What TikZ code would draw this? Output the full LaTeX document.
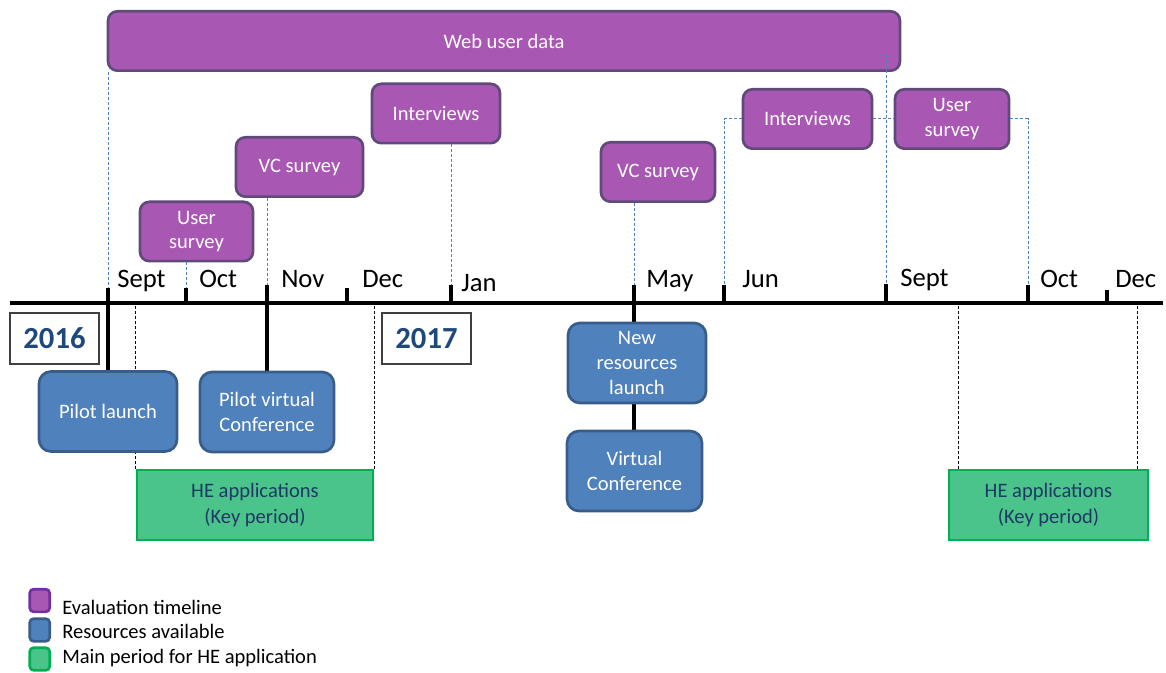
\documentclass[tikz,border=0pt]{standalone}
\usepackage{fontspec}
\setmainfont{Carlito}
\usetikzlibrary{backgrounds}

\definecolor{evalfill}{RGB}{168,88,178}
\definecolor{evaldraw}{RGB}{96,74,123}
\definecolor{evalleg}{RGB}{112,48,160}
\definecolor{resfill}{RGB}{79,129,189}
\definecolor{resdraw}{RGB}{56,93,138}
\definecolor{hefill}{RGB}{74,196,139}
\definecolor{hedraw}{RGB}{0,176,80}
\definecolor{hetext}{RGB}{31,56,100}
\definecolor{yeartext}{RGB}{31,73,125}
\definecolor{guideblue}{RGB}{79,129,189}

\tikzstyle{evalbox}=[
    draw=evaldraw,
    fill=evalfill,
    line width=2pt,
    rounded corners=7pt,
    text=white,
    align=center,
    minimum height=44.5pt,
    font=\fontsize{15.4}{18.5}\selectfont,
  ]
\tikzstyle{resbox}=[
    draw=resdraw,
    fill=resfill,
    line width=2pt,
    rounded corners=9pt,
    text=white,
    align=center,
    minimum height=60pt,
    font=\fontsize{15.4}{18.5}\selectfont,
  ]
\tikzstyle{hebox}=[
    draw=hedraw,
    fill=hefill,
    line width=2.2pt,
    text=hetext,
    align=center,
    minimum height=52.5pt,
    font=\fontsize{15.4}{19}\selectfont,
  ]
\tikzstyle{yearbox}=[
    draw=black!75,
    line width=0.8pt,
    minimum width=66.75pt,
    minimum height=38.25pt,
    text=yeartext,
    font=\fontsize{23}{28}\selectfont\bfseries,
  ]
\tikzstyle{legbox}=[
    line width=2pt,
    rounded corners=3pt,
    inner sep=0pt,
    minimum width=15pt,
    minimum height=17pt,
  ]
\tikzstyle{legtext}=[
    anchor=base west,
    inner sep=0pt,
    font=\fontsize{15.4}{18}\selectfont,
  ]
\tikzstyle{month}=[
    anchor=base west,
    inner sep=0pt,
    font=\fontsize{20}{24}\selectfont,
  ]
\tikzstyle{axis}=[
    line width=3.4pt,
  ]
\tikzstyle{tick}=[
    line width=3pt,
  ]
\tikzstyle{stem}=[
    line width=3.4pt,
  ]
\tikzstyle{guide}=[
    draw=guideblue,
    line width=0.75pt,
    dash pattern=on 2.25pt off 1.5pt,
  ]
\tikzstyle{keyline}=[
    draw=black,
    line width=0.75pt,
    dash pattern=on 2.25pt off 1.5pt,
  ]

\begin{document}
\begin{tikzpicture}[x=0.75pt, y=-0.75pt]
      \useasboundingbox (0,0) rectangle (1166,673);
      \coordinate (axl) at (10,303);
      \coordinate (axr) at (1163,303);
      \draw[axis] (axl) -- (axr);
      \foreach \x/\t/\lx/\ly/\m [count=\i] in {108/288/117/288/Sept, 186/288/199/288/Oct,
          267/285/281/288/Nov, 347/288/362/288/Dec, 451/285/461/292/Jan,
          634/285/646/288/May, 724/285/742/288/Jun, 886/284/900/287/Sept,
          1028/285/1040/288/Oct, 1107/290/1115/288/Dec} {%
        \coordinate (m\i) at (\x,\t);
        \draw[tick] (m\i) -- (m\i |- axl);
        \node[month] (lab\i) at (\lx,\ly) {\m};
      }

      \node[evalbox, minimum width=594pt] (web) at (504,41) {Web user data};
      \node[evalbox, minimum width=84.75pt] (us1) at (196.5,231.5) {User\\survey};
      \node[evalbox, minimum width=95.25pt] (vc1) at (299.5,167) {VC survey};
      \node[evalbox, minimum width=96pt] (int1) at (436,113.5) {Interviews};
      \node[evalbox, minimum width=85.5pt] (vc2) at (658,172) {VC survey};
      \node[evalbox, minimum width=96.75pt] (int2) at (807.5,119) {Interviews};
      \node[evalbox, minimum width=85.5pt] (us2) at (952,119) {User\\survey};

      \node[resbox, minimum width=103.5pt] (pilot) at (108,411.5) {Pilot launch};
      \node[resbox, minimum width=100.5pt] (pvc) at (267,412) {Pilot virtual\\Conference};
      \node[resbox, minimum width=103.5pt] (newres) at (637,363) {New\\resources\\launch};
      \node[resbox, minimum width=101.25pt] (vconf) at (634.5,471) {Virtual\\Conference};

      \node[hebox, minimum width=177pt] (he1) at (255,505) {HE applications\\(Key period)};
      \node[hebox, minimum width=149.25pt] (he2) at (1048.5,505) {HE applications\\(Key period)};

      \node[yearbox] (y16) at (54.5,338.5) {2016};
      \node[yearbox] (y17) at (426.5,338.5) {2017};

      \begin{pgfonlayer}{background}
        \draw[stem] (m1) -- (m1 |- pilot.north);
        \draw[stem] (m3) -- (m3 |- pvc.north);
        \draw[stem] (m6) -- (m6 |- newres.north);
        \draw[stem] (m6 |- newres.south) -- (m6 |- vconf.north);
        \draw[keyline] (he1.north west) -- (he1.north west |- axl);
        \draw[keyline] (he1.north east) -- (he1.north east |- axl);
        \draw[keyline] ([xshift=8.25pt]he2.north west) -- ([xshift=8.25pt]he2.north west |- axl);
        \draw[keyline] ([xshift=-9pt]he2.north east) -- ([xshift=-9pt]he2.north east |- axl);
        \draw[guide] (m1 |- web.south) -- (m1);
      \end{pgfonlayer}

      \coordinate (wtail) at (880,56);
      \draw[guide] (wtail) -| (m8);
      \draw[guide] (us1.south -| m2) -- (m2);
      \draw[guide] (vc1.south -| m3) -- (m3);
      \draw[guide] (int1.south -| m5) -- (m5);
      \draw[guide] (vc2.south -| m6) -- (m6);
      \draw[guide] (int2.west) -| (m7);
      \draw[guide] (int2.east) -- (us2.west);
      \draw[guide] (us2.east) -| (m9);

      \node[legbox, draw=evalleg, fill=evalfill] (leg1) at (39.7,600.5) {};
      \node[legbox, draw=resdraw, fill=resfill] (leg2) at (39.7,630) {};
      \node[legbox, draw=hedraw, fill=hefill] (leg3) at (39.7,659) {};
      \node[legtext] (txt1) at (62,614) {Evaluation timeline};
      \node[legtext] (txt2) at (62,638.3) {Resources available};
      \node[legtext] (txt3) at (62,663.3) {Main period for HE application};
    \end{tikzpicture}
\end{document}
